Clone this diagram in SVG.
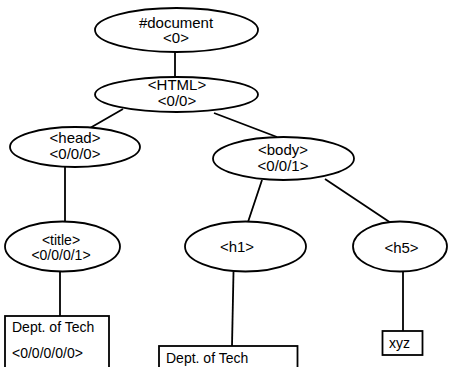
<svg xmlns="http://www.w3.org/2000/svg" width="451" height="367" viewBox="0 0 451 367">
<style>
.n{fill:#fff;stroke:#000;stroke-width:1.8}
.e line{stroke:#000;stroke-width:1.8}
text{font-family:"Liberation Sans",Arial,sans-serif;font-size:15px;fill:#000}
.c{text-anchor:middle}
.r{font-size:14px}
.t{font-size:14px}
</style>
<rect width="451" height="367" fill="#fff"/>
<g id="connectors" class="e">
<line x1="175" y1="52" x2="175" y2="77"/>
<line x1="123" y1="109" x2="90" y2="128"/>
<line x1="214" y1="113" x2="277" y2="137"/>
<line x1="65" y1="167" x2="65" y2="222"/>
<line x1="262" y1="180" x2="248" y2="222"/>
<line x1="325" y1="179" x2="397" y2="227"/>
<line x1="60" y1="272" x2="60" y2="316"/>
<line x1="233.5" y1="272" x2="232" y2="346"/>
<line x1="403" y1="272" x2="403" y2="331"/>
</g>
<g id="document"><ellipse class="n" cx="176.5" cy="30" rx="81.5" ry="22"/><text class="c" x="176" y="27.5">#document</text><text class="c" x="176" y="43">&lt;0&gt;</text></g>
<g id="html"><ellipse class="n" cx="176.5" cy="94.5" rx="81.5" ry="17.5"/><text class="c" x="177" y="90">&lt;HTML&gt;</text><text class="c" x="177" y="106">&lt;0/0&gt;</text></g>
<g id="head"><ellipse class="n" cx="75" cy="147" rx="65" ry="20"/><text class="c" x="75" y="143">&lt;head&gt;</text><text class="c" x="75" y="159">&lt;0/0/0&gt;</text></g>
<g id="body"><ellipse class="n" cx="283.5" cy="158.5" rx="70.5" ry="21.5"/><text class="c" x="283" y="155">&lt;body&gt;</text><text class="c" x="283" y="171">&lt;0/0/1&gt;</text></g>
<g id="title"><ellipse class="n" cx="62.5" cy="246.5" rx="57.5" ry="25"/><text class="c t" x="61" y="244.5">&lt;title&gt;</text><text class="c t" x="61" y="260">&lt;0/0/0/1&gt;</text></g>
<g id="h1"><ellipse class="n" cx="245.5" cy="246.5" rx="60.5" ry="25"/><text class="c" x="237" y="251.5">&lt;h1&gt;</text></g>
<g id="h5"><ellipse class="n" cx="400" cy="246.5" rx="47" ry="25"/><text class="c" x="401.5" y="252.5">&lt;h5&gt;</text></g>
<g id="text1"><rect class="n" x="5" y="316" width="104" height="60"/><text class="r" x="12" y="332">Dept. of Tech</text><text class="r" x="12" y="358">&lt;0/0/0/0/0&gt;</text></g>
<g id="text2"><rect class="n" x="159" y="346" width="138.5" height="30"/><text class="r" x="166" y="362.5">Dept. of Tech</text></g>
<g id="text3"><rect class="n" x="382.5" y="331" width="40" height="24"/><text class="r" x="389" y="348">xyz</text></g>
</svg>
